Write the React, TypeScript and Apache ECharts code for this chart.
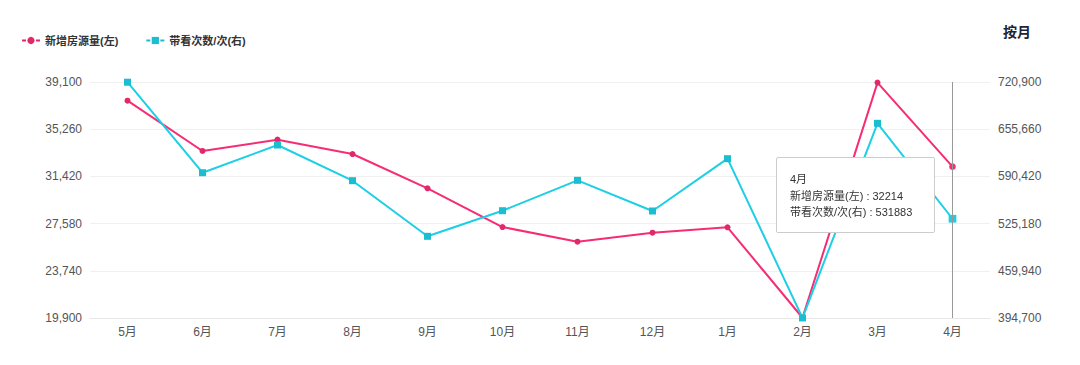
import React, { useEffect, useRef } from "react";
import * as echarts from "echarts";

const categories = ["5月", "6月", "7月", "8月", "9月", "10月", "11月", "12月", "1月", "2月", "3月", "4月"];
const newListings = [37580, 33490, 34410, 33240, 30450, 27300, 26110, 26840, 27280, 19920, 39050, 32214];
const viewings = [720600, 595500, 633800, 584500, 507600, 543000, 585000, 542600, 614900, 394800, 663800, 531883];
const leftTicks = { min: 19900, max: 39100, interval: 3840 };
const rightTicks = { min: 394700, max: 720900, interval: 65240 };
const seriesNames = ["新增房源量(左)", "带看次数/次(右)"];

const RED = "#e0286a";
const CYAN = "#1bbdd0";
const FONT = "'Liberation Sans', 'Noto Sans CJK SC', sans-serif";

export default function App() {
  const ref = useRef<HTMLDivElement>(null);
  useEffect(() => {
    document.body.style.margin = "0";
    const chart = echarts.init(ref.current!, null, { renderer: "svg" });
    chart.setOption({
      animation: false,
      textStyle: { fontFamily: FONT },
      legend: {
        left: 16,
        top: 30,
        itemGap: 27,
        itemWidth: 18,
        itemHeight: 9,
        lineStyle: { type: [4, 10] },
        textStyle: { fontSize: 11, fontWeight: "bold", color: "#333", fontFamily: FONT },
        data: seriesNames,
      },
      graphic: [
        {
          type: "text",
          right: 49,
          top: 25,
          style: { text: "按月", fontSize: 14, fontWeight: "bold", fill: "#1c2438", fontFamily: FONT },
        },
      ],
      grid: { left: 90, right: 90, top: 82, bottom: 47 },
      tooltip: {
        trigger: "axis",
        alwaysShowContent: true,
        position: [776, 157],
        backgroundColor: "#fff",
        borderColor: "#ccc",
        borderWidth: 1,
        padding: [13, 22, 11, 13],
        extraCssText: "box-shadow:none;border-radius:2px;line-height:16.5px;",
        textStyle: { fontSize: 11, color: "#333", fontFamily: FONT },
        axisPointer: { type: "line", lineStyle: { color: "#999", width: 1, type: "solid" } },
        formatter: (params: any[]) => {
          const lines = [params[0].axisValue];
          params.forEach((p) => lines.push(`${p.seriesName} : ${p.value}`));
          return lines.join("<br/>");
        },
      },
      xAxis: {
        type: "category",
        data: categories,
        boundaryGap: true,
        axisLine: { lineStyle: { color: "#e8e8e8" } },
        axisTick: { lineStyle: { color: "#e8e8e8" } },
        axisLabel: { color: "#555", fontSize: 12, margin: 8 },
      },
      yAxis: [
        {
          type: "value",
          min: leftTicks.min,
          max: leftTicks.max,
          interval: leftTicks.interval,
          axisLine: { show: false },
          axisTick: { show: false },
          splitLine: { lineStyle: { color: "#f0f0f0" } },
          axisLabel: { color: "#555", fontSize: 12, margin: 8 },
        },
        {
          type: "value",
          min: rightTicks.min,
          max: rightTicks.max,
          interval: rightTicks.interval,
          axisLine: { show: false },
          axisTick: { show: false },
          splitLine: { show: false },
          axisLabel: { color: "#555", fontSize: 12, margin: 8 },
        },
      ],
      series: [
        {
          name: seriesNames[0],
          type: "line",
          yAxisIndex: 0,
          data: newListings,
          symbol: "circle",
          symbolSize: 6,
          showAllSymbol: true,
          itemStyle: { color: RED },
          lineStyle: { color: RED, width: 2 },
        },
        {
          name: seriesNames[1],
          type: "line",
          yAxisIndex: 1,
          data: viewings,
          symbol: "rect",
          symbolSize: 7,
          showAllSymbol: true,
          itemStyle: { color: CYAN },
          lineStyle: { color: CYAN, width: 2 },
        },
      ],
    });
    chart.dispatchAction({ type: "showTip", seriesIndex: 0, dataIndex: 11 });
    return () => chart.dispose();
  }, []);
  return <div ref={ref} style={{ width: 1080, height: 365 }} />;
}
